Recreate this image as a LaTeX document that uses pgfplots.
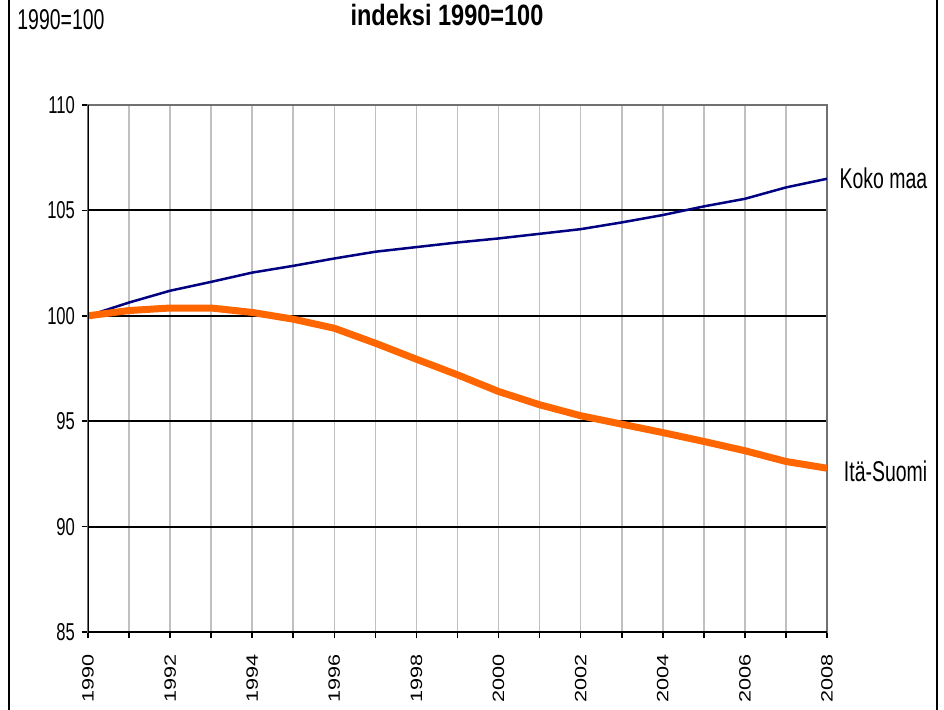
\documentclass[border=0pt]{standalone}
\usepackage{fontspec}
\setmainfont{Liberation Sans}[FakeStretch=0.68]
\newfontfamily\titlefont{Liberation Sans}[FakeStretch=0.8]
\newfontfamily\yearfont{Liberation Sans}[FakeStretch=1.32]
\usepackage{pgfplots}
\usepackage{pgfplotstable}
\pgfplotsset{compat=1.18}
\definecolor{kokomaa}{HTML}{000080}
\definecolor{itasuomi}{HTML}{FF6600}
\definecolor{vgrid}{HTML}{C0C0C0}
\definecolor{boxgray}{HTML}{707070}

% indeksi 1990=100
\pgfplotstableread{
year koko ita
1990 100.00 100.00
1991 100.63 100.25
1992 101.19 100.37
1993 101.61 100.37
1994 102.05 100.16
1995 102.37 99.84
1996 102.72 99.41
1997 103.04 98.70
1998 103.26 97.94
1999 103.48 97.20
2000 103.67 96.41
2001 103.89 95.78
2002 104.11 95.26
2003 104.43 94.86
2004 104.78 94.46
2005 105.19 94.04
2006 105.55 93.60
2007 106.09 93.09
2008 106.50 92.77
}\indeksi

\begin{document}
\begin{tikzpicture}
\begin{axis}[
    at={(44pt,38.5pt)}, anchor=south west,
    scale only axis, width=369.5pt, height=263.5pt,
    xmin=1990, xmax=2008, ymin=85, ymax=110,
    xtick={1990,1992,...,2008},
    xticklabels={1990,1992,1994,1996,1998,2000,2002,2004,2006,2008},
    minor xtick={1990,1991,...,2008},
    ytick={85,90,...,110},
    yticklabels={85,90,95,100,105,110},
    xtick pos=bottom, ytick pos=left,
    tick align=outside,
    major tick length=3pt, minor tick length=3pt,
    tick style={black, line width=0.8pt},
    xminorgrids, ymajorgrids,
    minor grid style={vgrid, line width=0.8pt},
    major grid style={black, line width=1pt},
    axis line style={boxgray, line width=1pt},
    xticklabel style={font=\yearfont\fontsize{8.2}{9}\selectfont, rotate=90, anchor=east, xshift=-4.5pt},
    yticklabel style={font=\fontsize{12.2}{13}\selectfont},
]
\addplot[kokomaa, line width=1.25pt, line join=round] table[x=year, y=koko] {\indeksi};
\addplot[itasuomi, line width=3.5pt, line join=round] table[x=year, y=ita] {\indeksi};
\draw[black, line width=1pt] (rel axis cs:0,1) -- (rel axis cs:0,0);
\draw[black, line width=1.5pt] (rel axis cs:0,0) -- (rel axis cs:1,0);
\end{axis}
\node[anchor=base west, inner sep=0pt, font=\fontsize{14.3}{16}\selectfont] at (8.5pt,340pt) {1990=100};
\node[anchor=base, inner sep=0pt, font=\titlefont\bfseries\fontsize{14.7}{16}\selectfont] at (223.5pt,341.5pt) {indeksi 1990=100};
\node[anchor=base east, inner sep=0pt, font=\fontsize{14.3}{16}\selectfont] at (463.8pt,260.5pt) {Koko maa};
\node[anchor=base east, inner sep=0pt, font=\fontsize{14.3}{16}\selectfont] at (463.8pt,114pt) {Itä-Suomi};
\draw[black, line width=1pt] (4.5pt,-5pt) -- (4.5pt,360pt);
\draw[black, line width=1pt] (468.5pt,-5pt) -- (468.5pt,360pt);
\pgfresetboundingbox
\path[use as bounding box] (0,0) rectangle (472pt,354.5pt);
\end{tikzpicture}
\end{document}
